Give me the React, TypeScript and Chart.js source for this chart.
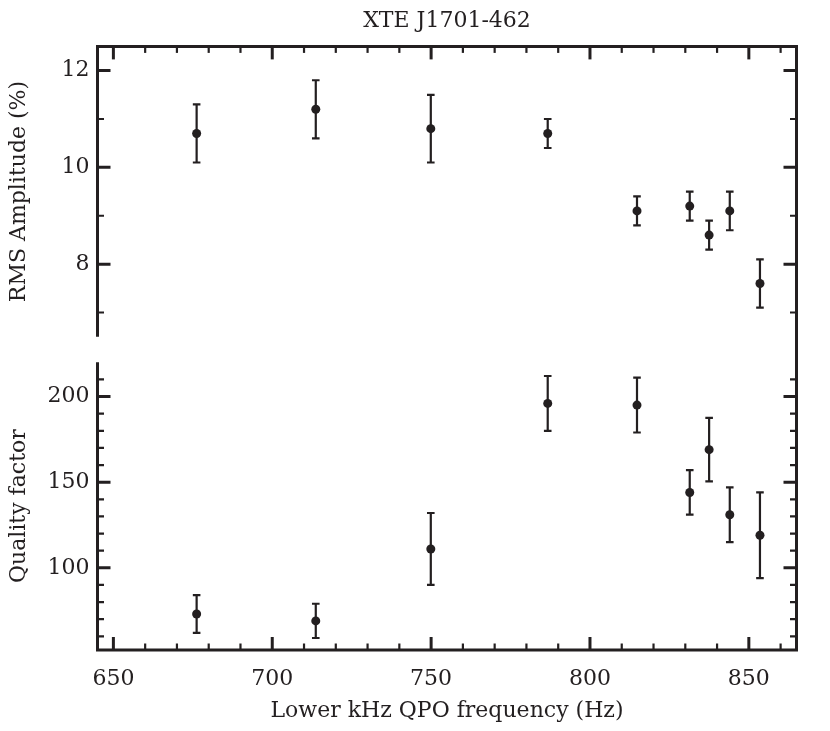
import React, { useEffect, useRef } from "react";
import { Chart, registerables } from "chart.js";

Chart.register(...registerables);

// ---- data ----
const frequencies = [676.2, 713.7, 749.9, 786.7, 814.8, 831.4, 837.5, 844.0, 853.5];
const rmsAmplitude = [10.7, 11.2, 10.8, 10.7, 9.1, 9.2, 8.6, 9.1, 7.6];
const rmsError = [0.6, 0.6, 0.7, 0.3, 0.3, 0.3, 0.3, 0.4, 0.5];
const qualityFactor = [73, 69, 111, 196, 195, 144, 169, 131, 119];
const qualityError = [11, 10, 21, 16, 16, 13, 18.5, 16, 25];

const xMajorTicks = [650, 700, 750, 800, 850];
const rmsMajorTicks = [8, 10, 12];
const qualityMajorTicks = [100, 150, 200];

// ---- styling / layout ----
const INK = "#231f20";
const FONT = "'DejaVu Serif', serif";
const FONT_SIZE = 22;
const W = 830;
const TOP_H = 345;
const BOT_H = 386;
const PLOT_LEFT = 97.5;
const PLOT_RIGHT_PAD = W - 796.5;

function range(a: number, b: number, step: number) {
  const out: number[] = [];
  for (let v = a; v <= b + 1e-9; v += step) out.push(Math.round(v * 1000) / 1000);
  return out;
}

function makePanelPlugin(panel: "top" | "bottom", errors: number[], yMinor: number[], yMajor: number[]) {
  const xMinor = range(650, 860, 10);
  return {
    id: "panel-" + panel,
    beforeDatasetsDraw(chart: any) {
      const ctx = chart.ctx;
      const xs = chart.scales.x;
      const ys = chart.scales.y;
      const data = chart.data.datasets[0].data as { x: number; y: number }[];
      ctx.save();
      ctx.strokeStyle = INK;
      ctx.lineWidth = 2.2;
      ctx.lineCap = "butt";
      data.forEach((p, i) => {
        const x = xs.getPixelForValue(p.x);
        const y1 = ys.getPixelForValue(p.y + errors[i]);
        const y2 = ys.getPixelForValue(p.y - errors[i]);
        ctx.beginPath();
        ctx.moveTo(x, y1);
        ctx.lineTo(x, y2);
        ctx.moveTo(x - 3.8, y1);
        ctx.lineTo(x + 3.8, y1);
        ctx.moveTo(x - 3.8, y2);
        ctx.lineTo(x + 3.8, y2);
        ctx.stroke();
      });
      ctx.restore();
    },
    afterDraw(chart: any) {
      const ctx = chart.ctx;
      const { left: L, right: R, top: T, bottom: B } = chart.chartArea;
      const xs = chart.scales.x;
      const ys = chart.scales.y;
      ctx.save();
      ctx.strokeStyle = INK;
      ctx.lineJoin = "miter";
      ctx.lineCap = "butt";
      ctx.lineWidth = 3;
      ctx.beginPath();
      if (panel === "top") {
        ctx.moveTo(L, B);
        ctx.lineTo(L, T);
        ctx.lineTo(R, T);
        ctx.lineTo(R, chart.height);
      } else {
        ctx.moveTo(L, T);
        ctx.lineTo(L, B);
        ctx.lineTo(R, B);
        ctx.lineTo(R, 0);
      }
      ctx.stroke();

      // x ticks (inward)
      xMinor.forEach((v) => {
        const major = xMajorTicks.includes(v);
        const len = major ? 13 : 6.5;
        ctx.lineWidth = major ? 3 : 2.2;
        const x = xs.getPixelForValue(v);
        ctx.beginPath();
        if (panel === "top") {
          ctx.moveTo(x, T);
          ctx.lineTo(x, T + len);
        } else {
          ctx.moveTo(x, B);
          ctx.lineTo(x, B - len);
        }
        ctx.stroke();
      });
      // y ticks (inward, both sides)
      yMinor.forEach((v) => {
        const major = yMajor.includes(v);
        const len = major ? 13 : 6.5;
        ctx.lineWidth = major ? 3 : 2.2;
        const y = ys.getPixelForValue(v);
        ctx.beginPath();
        ctx.moveTo(L, y);
        ctx.lineTo(L + len, y);
        ctx.moveTo(R, y);
        ctx.lineTo(R - len, y);
        ctx.stroke();
      });
      ctx.restore();
    },
  };
}

const tickFont = { family: FONT, size: FONT_SIZE };

function yScale(min: number, max: number, major: number[], title: string) {
  return {
    type: "linear",
    min,
    max,
    afterBuildTicks: (s: any) => {
      s.ticks = major.map((v) => ({ value: v }));
    },
    afterFit: (s: any) => {
      s.width = PLOT_LEFT;
      s.paddingTop = 0;
      s.paddingBottom = 0;
    },
    grid: { display: false, drawTicks: false },
    border: { display: false },
    ticks: { color: INK, font: tickFont, padding: 8, callback: (v: any) => String(v) },
    title: {
      display: true,
      text: title,
      color: INK,
      font: tickFont,
      padding: { top: 6, bottom: 0 },
    },
  };
}

export default function App() {
  const topRef = useRef<HTMLCanvasElement | null>(null);
  const botRef = useRef<HTMLCanvasElement | null>(null);

  useEffect(() => {
    const pointStyle = {
      showLine: false,
      pointRadius: 4.5,
      pointBackgroundColor: INK,
      pointBorderWidth: 0,
      pointHoverRadius: 4.5,
    };

    const top = new Chart(topRef.current as HTMLCanvasElement, {
      type: "scatter",
      data: {
        datasets: [
          {
            label: "RMS Amplitude",
            data: frequencies.map((f, i) => ({ x: f, y: rmsAmplitude[i] })),
            ...pointStyle,
          } as any,
        ],
      },
      options: {
        responsive: false,
        animation: false,
        devicePixelRatio: 1,
        layout: { padding: { left: 0, right: PLOT_RIGHT_PAD, top: 0, bottom: 8.3 } },
        plugins: {
          legend: { display: false },
          tooltip: { enabled: false },
          title: {
            display: true,
            text: "XTE J1701-462",
            fullSize: false,
            color: INK,
            font: { family: FONT, size: FONT_SIZE, weight: "normal" },
            padding: { top: 8, bottom: 12 },
          },
        },
        scales: {
          x: { type: "linear", display: false, min: 645, max: 865 },
          y: yScale(6.5, 12.5, rmsMajorTicks, "RMS Amplitude (%)") as any,
        },
      } as any,
      plugins: [makePanelPlugin("top", rmsError, range(7, 12, 1), rmsMajorTicks)],
    });

    const bottom = new Chart(botRef.current as HTMLCanvasElement, {
      type: "scatter",
      data: {
        datasets: [
          {
            label: "Quality factor",
            data: frequencies.map((f, i) => ({ x: f, y: qualityFactor[i] })),
            ...pointStyle,
          } as any,
        ],
      },
      options: {
        responsive: false,
        animation: false,
        devicePixelRatio: 1,
        layout: { padding: { left: 0, right: PLOT_RIGHT_PAD, top: 17.3, bottom: 0 } },
        plugins: {
          legend: { display: false },
          tooltip: { enabled: false },
          title: { display: false },
        },
        scales: {
          x: {
            type: "linear",
            min: 645,
            max: 865,
            afterBuildTicks: (s: any) => {
              s.ticks = xMajorTicks.map((v) => ({ value: v }));
            },
            afterFit: (s: any) => {
              s.height = 81;
              s.paddingLeft = 0;
              s.paddingRight = 0;
            },
            grid: { display: false, drawTicks: false },
            border: { display: false },
            ticks: { color: INK, font: tickFont, padding: 16, maxRotation: 0, callback: (v: any) => String(v) },
            title: {
              display: true,
              text: "Lower kHz QPO frequency (Hz)",
              color: INK,
              font: tickFont,
              padding: { top: 0, bottom: 7 },
            },
          },
          y: yScale(52, 220, qualityMajorTicks, "Quality factor") as any,
        },
      } as any,
      plugins: [makePanelPlugin("bottom", qualityError, range(60, 210, 10), qualityMajorTicks)],
    });

    return () => {
      top.destroy();
      bottom.destroy();
    };
  }, []);

  return (
    <div style={{ position: "absolute", left: 0, top: 0, width: W, height: TOP_H + BOT_H, background: "#fff" }}>
      <canvas
        ref={topRef}
        width={W}
        height={TOP_H}
        style={{ position: "absolute", left: 0, top: 0, width: W, height: TOP_H }}
      />
      <canvas
        ref={botRef}
        width={W}
        height={BOT_H}
        style={{ position: "absolute", left: 0, top: TOP_H, width: W, height: BOT_H }}
      />
    </div>
  );
}
